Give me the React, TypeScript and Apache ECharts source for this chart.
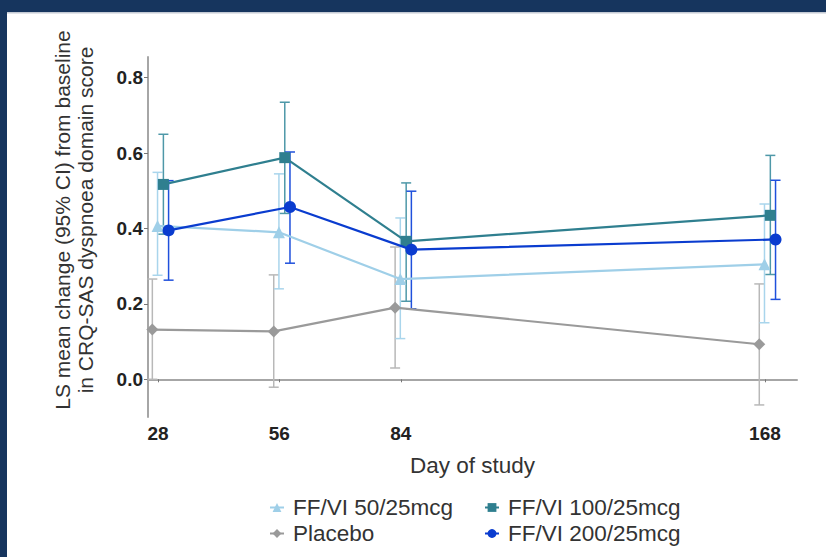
import React, { useEffect, useRef } from "react";
import * as echarts from "echarts";

const days = [28, 56, 84, 168];
const seriesNames = ["Placebo", "FF/VI 50/25mcg", "FF/VI 100/25mcg", "FF/VI 200/25mcg"];
const dodge = [-1.3, -0.1, 1.25, 2.45];

const placeboMean = [0.132, 0.127, 0.19, 0.093];
const placeboLow = [0.0, -0.021, 0.03, -0.068];
const placeboHigh = [0.266, 0.277, 0.351, 0.253];

const ff50Mean = [0.407, 0.39, 0.266, 0.305];
const ff50Low = [0.276, 0.24, 0.108, 0.15];
const ff50High = [0.549, 0.545, 0.428, 0.465];

const ff100Mean = [0.517, 0.588, 0.366, 0.435];
const ff100Low = [0.385, 0.44, 0.207, 0.278];
const ff100High = [0.65, 0.735, 0.521, 0.594];

const ff200Mean = [0.395, 0.457, 0.344, 0.371];
const ff200Low = [0.263, 0.308, 0.187, 0.212];
const ff200High = [0.527, 0.603, 0.499, 0.528];

const yTicks = [0, 0.2, 0.4, 0.6, 0.8];
const yTitle = "LS mean change (95% CI) from baseline\nin CRQ-SAS dyspnoea domain score";
const xTitle = "Day of study";

const lineColors = ["#9a9a9a", "#9fcfe8", "#2f7f8f", "#0a3ccf"];
const barColors = ["#b8b8b8", "#a9d5ec", "#4e98a8", "#1f50dc"];
const symbols = ["diamond", "triangle", "rect", "circle"];
const symbolSizes = [12, 12, 11, 12];

const means = [placeboMean, ff50Mean, ff100Mean, ff200Mean];
const lows = [placeboLow, ff50Low, ff100Low, ff200Low];
const highs = [placeboHigh, ff50High, ff100High, ff200High];

const FONT = "'Liberation Sans', Arial, Helvetica, sans-serif";

export default function App() {
  const ref = useRef<HTMLDivElement>(null);
  useEffect(() => {
    if (!ref.current) return;
    const chart = echarts.init(ref.current, undefined, { renderer: "svg" });

    const errorSeries = seriesNames.map((name, i) => ({
      name: name + " CI",
      type: "custom",
      z: 2 + i,
      silent: true,
      data: days.map((d, k) => [d + dodge[i], lows[i][k], highs[i][k]]),
      encode: { x: 0, y: [1, 2] },
      renderItem: (params: any, api: any) => {
        const x = api.value(0);
        const lo = api.coord([x, api.value(1)]);
        const hi = api.coord([x, api.value(2)]);
        const hw = 5;
        const st = { stroke: barColors[i], lineWidth: 1.5 };
        return {
          type: "group",
          children: [
            { type: "line", shape: { x1: lo[0], y1: lo[1], x2: hi[0], y2: hi[1] }, style: st },
            { type: "line", shape: { x1: lo[0] - hw, y1: lo[1], x2: lo[0] + hw, y2: lo[1] }, style: st },
            { type: "line", shape: { x1: hi[0] - hw, y1: hi[1], x2: hi[0] + hw, y2: hi[1] }, style: st },
          ],
        };
      },
    }));

    const lineSeries = seriesNames.map((name, i) => ({
      name,
      type: "line",
      z: 10 + i,
      data: days.map((d, k) => [d + dodge[i], means[i][k]]),
      symbol: symbols[i],
      symbolSize: symbolSizes[i],
      showAllSymbol: true,
      lineStyle: { color: lineColors[i], width: 2.2 },
      itemStyle: { color: lineColors[i] },
    }));

    const legendBase = {
      orient: "horizontal",
      padding: 0,
      itemWidth: 14,
      itemHeight: 11,
      textStyle: { fontFamily: FONT, fontSize: 22.5, color: "#333", padding: [0, 0, 0, 4] },
      selectedMode: false,
    };

    chart.setOption({
      animation: false,
      backgroundColor: "#ffffff",
      textStyle: { fontFamily: FONT },
      grid: { left: 148, top: 57, right: 29, bottom: 140, containLabel: false },
      xAxis: {
        type: "value",
        min: 25.7,
        max: 175.4,
        name: xTitle,
        nameLocation: "middle",
        nameGap: 37,
        nameTextStyle: { fontFamily: FONT, fontSize: 22.5, color: "#333" },
        axisLine: { show: true, lineStyle: { color: "#a6a6a6", width: 2 } },
        axisTick: { show: true, length: 3, customValues: days, lineStyle: { color: "#777", width: 1 } },
        axisLabel: {
          customValues: days,
          fontFamily: FONT,
          fontSize: 19,
          fontWeight: "bold",
          color: "#222",
          margin: 7,
        },
        splitLine: { show: false },
      },
      yAxis: {
        type: "value",
        min: -0.1,
        max: 0.855,
        axisLine: { show: true, lineStyle: { color: "#a6a6a6", width: 2 } },
        axisTick: { show: true, length: 4, customValues: yTicks, lineStyle: { color: "#777", width: 1 } },
        axisLabel: {
          customValues: yTicks,
          formatter: (v: number) => v.toFixed(1),
          fontFamily: FONT,
          fontSize: 19,
          fontWeight: "bold",
          color: "#222",
          margin: 5,
        },
        splitLine: { show: false },
      },
      legend: [
        { ...legendBase, data: ["FF/VI 50/25mcg"], left: 269, top: 496 },
        { ...legendBase, data: ["FF/VI 100/25mcg"], left: 484, top: 496 },
        { ...legendBase, data: ["Placebo"], left: 269, top: 522 },
        { ...legendBase, data: ["FF/VI 200/25mcg"], left: 484, top: 522 },
      ],
      graphic: [
        {
          type: "text",
          x: 73.5,
          y: 220,
          rotation: Math.PI / 2,
          z: 50,
          style: {
            text: yTitle,
            align: "center",
            verticalAlign: "middle",
            fontFamily: FONT,
            fontSize: 21,
            lineHeight: 23,
            fill: "#333",
          },
        },
        { type: "rect", shape: { x: 0, y: 0, width: 826, height: 12 }, style: { fill: "#16355e" }, z: 100 },
        { type: "rect", shape: { x: 0, y: 12, width: 826, height: 1.5 }, style: { fill: "#c4cad4" }, z: 100 },
        { type: "rect", shape: { x: 0, y: 0, width: 7, height: 557 }, style: { fill: "#16355e" }, z: 101 },
      ],
      series: [...errorSeries, ...lineSeries],
    });

    return () => chart.dispose();
  }, []);

  return (
    <div
      ref={ref}
      style={{ position: "absolute", left: 0, top: 0, width: 826, height: 557, background: "#fff" }}
    />
  );
}
